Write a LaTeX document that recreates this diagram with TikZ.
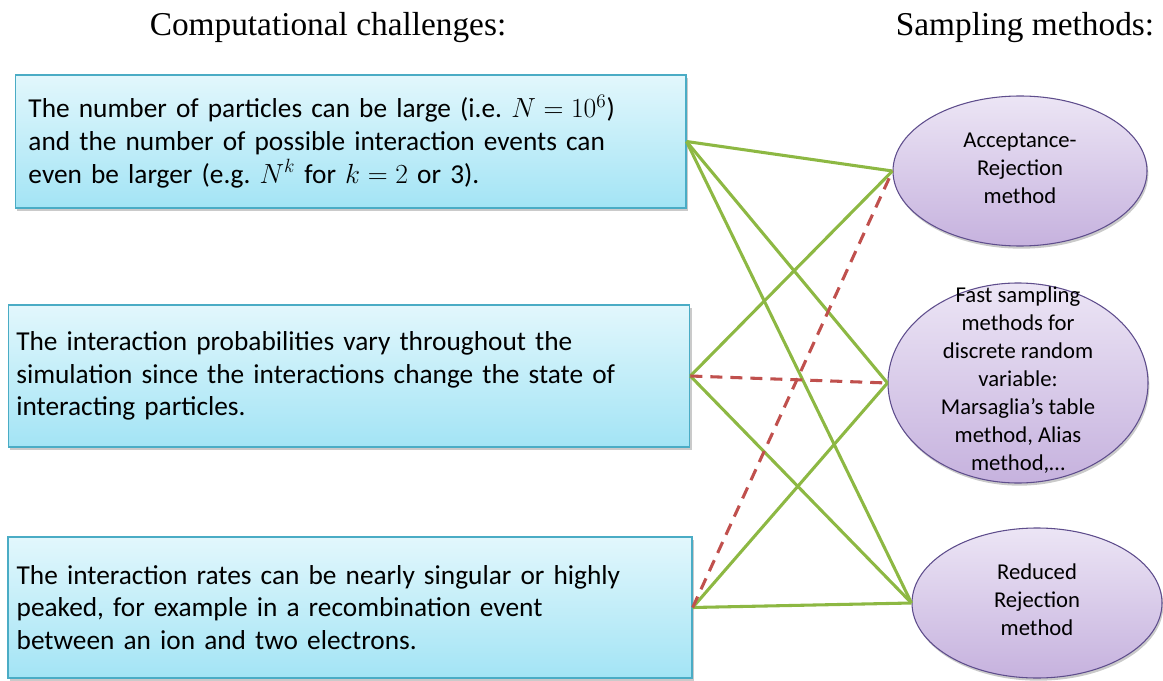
\documentclass[tikz,border=0pt]{standalone}
\usepackage{fontspec}
\setmainfont{Carlito}
\newfontfamily\headfont{Liberation Serif}
\usetikzlibrary{shapes.geometric,shadows}

\definecolor{boxtop}{HTML}{E2F7FC}
\definecolor{boxbottom}{HTML}{A3E4F5}
\definecolor{boxline}{HTML}{4AACC5}
\definecolor{ovaltop}{HTML}{ECE5F5}
\definecolor{ovalbottom}{HTML}{C6B2DE}
\definecolor{ovalline}{HTML}{5E4D8C}
\definecolor{linkgreen}{HTML}{8DB843}
\definecolor{linkred}{HTML}{C0504D}

% text of an oval, kept out of the size of the shape
\newcommand{\ovaltext}[2]{\parbox[c][0pt][c]{#1}{\centering #2}}

\begin{document}
\begin{tikzpicture}[x=0.75pt,y=-0.75pt,
    heading/.style={font={\headfont\fontsize{25}{29}\selectfont}},
    challenge/.style={draw=boxline,line width=1pt,
        top color=boxtop,bottom color=boxbottom,
        drop shadow={shadow xshift=1.5pt,shadow yshift=-2pt,
                     fill=black!60,opacity=.35},
        align=left,font={\fontsize{20.5}{24.5}\selectfont}},
    method/.style={ellipse,draw=ovalline,line width=.8pt,
        top color=ovaltop,bottom color=ovalbottom,
        drop shadow={shadow xshift=1pt,shadow yshift=-2pt,
                     fill=black!60,opacity=.35},
        inner sep=0pt,font={\fontsize{17}{21}\selectfont}},
    link/.style={linkgreen,line width=2.3pt},
    cut/.style={linkred,line width=2.3pt,dash pattern=on 9pt off 6pt},
    ]
    \useasboundingbox (0,0) rectangle (1163,681);

    % Headings
    \node[heading] (hleft) at (328,28) {Computational challenges:};
    \node[heading] (hright) at (1025,28) {Sampling methods:};

    % Computational challenges
    \node[challenge,text width=483pt,inner xsep=10pt,minimum height=99.75pt]
        (b1) at (350.5,141.5)
        {The number of particles can be large (i.e.\ $N=10^6$)\\
         and the number of possible interaction events can\\
         even be larger (e.g.\ $N^k$ for $k=2$ or 3).};
    \node[challenge,text width=499pt,inner xsep=6pt,minimum height=106.5pt]
        (b2) at (349,376)
        {The interaction probabilities vary throughout the\\
         simulation since the interactions change the state of\\
         interacting particles.};
    \node[challenge,text width=500pt,inner xsep=6.5pt,minimum height=105.75pt]
        (b3) at (350,607.5)
        {The interaction rates can be nearly singular or highly\\
         peaked, for example in a recombination event\\
         between an ion and two electrons.};

    % Sampling methods
    \node[method,minimum width=190.5pt,minimum height=112.5pt] (e1) at (1020,171)
        {\ovaltext{120pt}{Acceptance-\\Rejection\\method}};
    \node[method,minimum width=195pt,minimum height=150pt] (e2) at (1018,383)
        {\ovaltext{135pt}{Fast sampling\\methods for\\discrete random\\variable:\\
         Marsaglia’s table\\method, Alias\\method,…}};
    \node[method,minimum width=187.5pt,minimum height=112.5pt] (e3) at (1037,603)
        {\ovaltext{120pt}{Reduced\\Rejection\\method}};

    % Links
    \foreach \from/\to in {b1/e1,b1/e2,b1/e3,b2/e1,b2/e3,b3/e2,b3/e3}
        \draw[link] (\from.east) -- (\to.west);
    % Dashed links
    \foreach \from/\to in {b2/e2,b3/e1}
        \draw[cut] (\from.east) -- (\to.west);
\end{tikzpicture}
\end{document}
